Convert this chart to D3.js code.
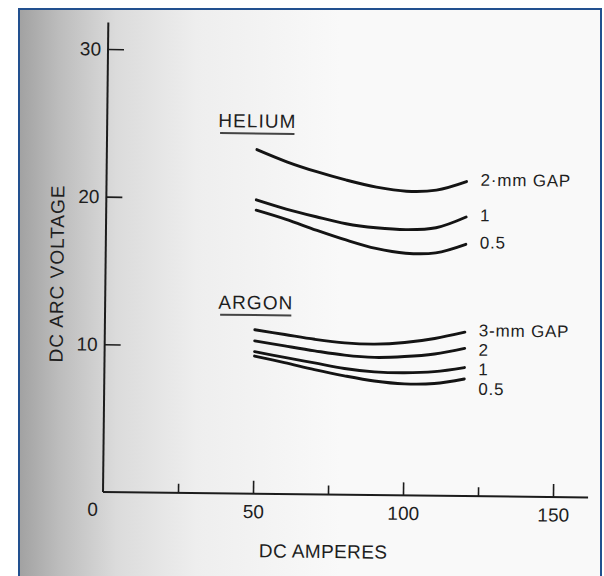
<!DOCTYPE html>
<html>
<head>
<meta charset="utf-8">
<script src="https://cdn.jsdelivr.net/npm/d3@7"></script>
<style>
  html, body { margin: 0; padding: 0; background: #ffffff; }
  svg { display: block; }
  text { font-family: "Liberation Sans", Arial, Helvetica, sans-serif; fill: #1e1e1e; }
</style>
</head>
<body>
<svg id="chart" width="604" height="576"></svg>
<script>
// ---------------- data ----------------
const amps = [50, 60, 70, 80, 90, 100, 110, 120];

const heliumLabels = ["2·mm GAP", "1", "0.5"];
const helium2mm  = [23.3, 22.5, 21.85, 21.3, 20.85, 20.6, 20.7, 21.3];
const helium1mm  = [19.9, 19.3, 18.8, 18.35, 18.1, 18.0, 18.15, 18.9];
const helium05mm = [19.2, 18.6, 17.9, 17.25, 16.7, 16.4, 16.45, 17.05];

const argonLabels = ["3-mm GAP", "2", "1", "0.5"];
const argon3mm  = [11.1, 10.8, 10.5, 10.28, 10.22, 10.35, 10.65, 11.1];
const argon2mm  = [10.35, 10.03, 9.72, 9.45, 9.32, 9.4, 9.6, 10.0];
const argon1mm  = [9.62, 9.25, 8.9, 8.55, 8.34, 8.3, 8.4, 8.7];
const argon05mm = [9.32, 8.9, 8.45, 8.05, 7.72, 7.55, 7.6, 7.93];

const xMajorTicks = [50, 100, 150];
const xMinorTicks = [25, 75, 125];
const yTicks = [10, 20, 30];
const xZeroLabel = "0";
const xTitle = "DC AMPERES";
const yTitle = "DC ARC VOLTAGE";
const groupTitles = ["HELIUM", "ARGON"];

// ---------------- layout ----------------
const svg = d3.select("#chart");
const W = 604, H = 576;

// background: scanned page with grey shading at the left
const defs = svg.append("defs");
const grad = defs.append("linearGradient")
  .attr("id", "shade").attr("gradientUnits", "userSpaceOnUse")
  .attr("x1", 20).attr("y1", 0).attr("x2", 340).attr("y2", 0);
[[0, "#a2a2a2"], [0.12, "#bcbcbc"], [0.3, "#dbdbdb"], [0.55, "#eeeeee"], [1, "#f9f9f9"]]
  .forEach(([o, c]) => grad.append("stop").attr("offset", o).attr("stop-color", c));

svg.append("rect").attr("x", 0).attr("y", 0).attr("width", W).attr("height", H).attr("fill", "#ffffff");
svg.append("rect").attr("x", 19).attr("y", 9).attr("width", 582).attr("height", 600)
  .attr("fill", "url(#shade)");
svg.append("rect").attr("x", 19).attr("y", 9).attr("width", 582).attr("height", 600)
  .attr("fill", "none").attr("stroke", "#22508f").attr("stroke-width", 2);

const x = d3.scaleLinear().domain([0, 150]).range([103, 553]);
const y = d3.scaleLinear().domain([0, 30]).range([492, 49]);

// the scan is slightly rotated
const g = svg.append("g").attr("transform", "rotate(0.65,106,492)");

const ink = "#1c1c1c";

// axis lines
g.append("line").attr("x1", x(0)).attr("x2", x(0)).attr("y1", y(0)).attr("y2", y(31.8))
  .attr("stroke", ink).attr("stroke-width", 2);
g.append("line").attr("x1", x(0)).attr("x2", x(161.7)).attr("y1", y(0)).attr("y2", y(0))
  .attr("stroke", ink).attr("stroke-width", 2);

// x ticks
const xMinor = g.append("g").attr("transform", `translate(0,${y(0)})`)
  .call(d3.axisBottom(x).tickValues(xMinorTicks).tickSizeInner(-9).tickSizeOuter(0).tickFormat(""));
const xMajor = g.append("g").attr("transform", `translate(0,${y(0)})`)
  .call(d3.axisBottom(x).tickValues(xMajorTicks).tickSizeInner(-13).tickSizeOuter(0).tickPadding(11));
[xMinor, xMajor].forEach(a => {
  a.select(".domain").remove();
  a.selectAll(".tick line").attr("stroke", ink).attr("stroke-width", 1.6);
  a.selectAll(".tick text").attr("font-size", 19).attr("fill", "#1e1e1e")
    .style("font-family", '"Liberation Sans", Arial, sans-serif');
});
g.append("text").attr("x", x(0) - 5).attr("y", y(0) + 24)
  .attr("text-anchor", "end").attr("font-size", 19).text(xZeroLabel);

// y ticks
const yAx = g.append("g").attr("transform", `translate(${x(0)},0)`)
  .call(d3.axisLeft(y).tickValues(yTicks).tickSizeInner(-16).tickSizeOuter(0).tickPadding(7));
yAx.select(".domain").remove();
yAx.selectAll(".tick line").attr("stroke", ink).attr("stroke-width", 1.6);
yAx.selectAll(".tick text").attr("font-size", 19).attr("fill", "#1e1e1e")
  .style("font-family", '"Liberation Sans", Arial, sans-serif');

// axis titles
g.append("text").attr("x", 323.8).attr("y", 555.5).attr("text-anchor", "middle")
  .attr("font-size", 19).attr("letter-spacing", 0.4).text(xTitle);
g.append("text").attr("transform", "translate(61,274) rotate(-90)").attr("text-anchor", "middle")
  .attr("font-size", 19).attr("letter-spacing", 1).text(yTitle);

// curves
const line = d3.line().x(d => x(d[0])).y(d => y(d[1])).curve(d3.curveCatmullRom.alpha(0.5));

function drawGroup(title, labels, seriesList, titleX, titleY) {
  const t = g.append("text").attr("x", x(titleX)).attr("y", y(titleY))
    .attr("font-size", 19).attr("letter-spacing", 1.1).text(title);
  const bb = t.node().getBBox();
  g.append("line").attr("x1", bb.x + 2).attr("x2", bb.x + bb.width - 2)
    .attr("y1", y(titleY) + 6).attr("y2", y(titleY) + 6)
    .attr("stroke", "#444").attr("stroke-width", 2);

  let prev = -Infinity;
  seriesList.forEach((vals, i) => {
    const pts = amps.map((a, j) => [a, vals[j]]);
    g.append("path").attr("d", line(pts)).attr("fill", "none")
      .attr("stroke", "#141414").attr("stroke-width", 2.9).attr("stroke-linecap", "round");
    const last = pts[pts.length - 1];
    let ly = Math.max(y(last[1]) + 4, prev + 19.5);
    prev = ly;
    g.append("text").attr("x", x(last[0]) + 14).attr("y", ly)
      .attr("font-size", 17).attr("letter-spacing", 0.8).text(labels[i]);
  });
}

drawGroup(groupTitles[0], heliumLabels, [helium2mm, helium1mm, helium05mm], 37, 24.8);
drawGroup(groupTitles[1], argonLabels, [argon3mm, argon2mm, argon1mm, argon05mm], 37.7, 12.5);
</script>
</body>
</html>
